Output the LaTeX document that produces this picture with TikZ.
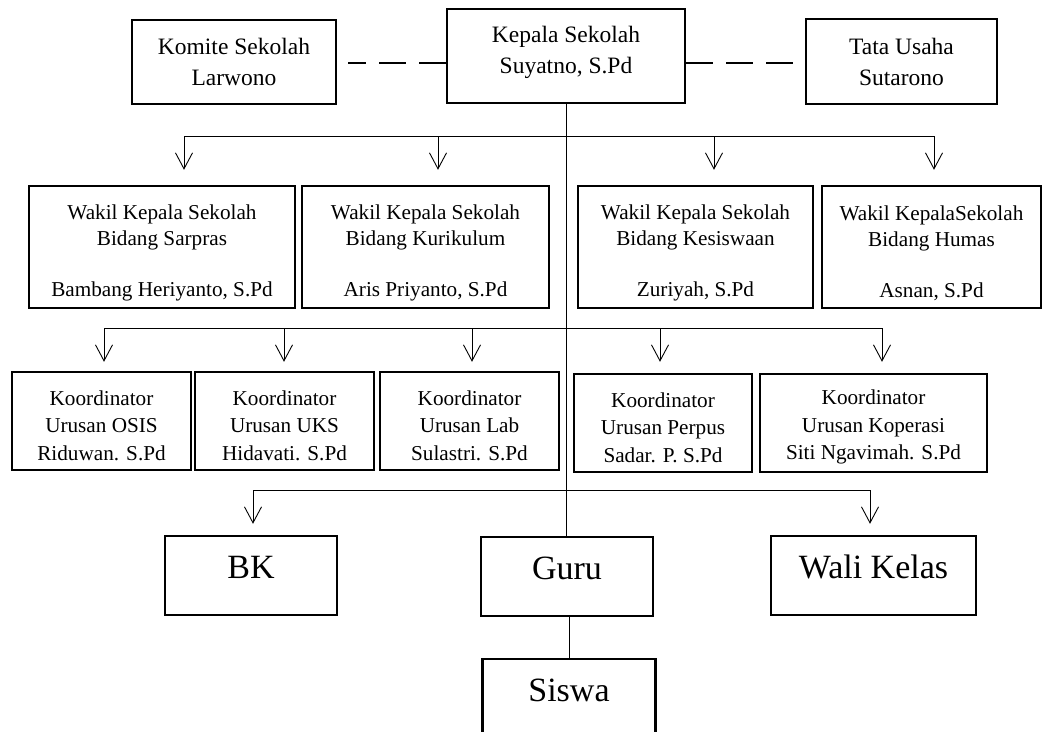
\documentclass[tikz,border=0pt]{standalone}
\usepackage{fontspec}
\setmainfont{Liberation Serif}
\usetikzlibrary{arrows.meta}
\newcommand{\wkstrut}{\rule{0pt}{26.5pt}}
\newcommand{\kostrut}{\rule{0pt}{23.5pt}}
\begin{document}
\begin{tikzpicture}[x=1pt,y=-1pt,
  box/.style={draw,line width=2.4pt,inner sep=0pt,align=center},
  topbox/.style={box,font=\fontsize{23.5}{31}\selectfont},
  wkbox/.style={box,minimum height=122pt,font=\fontsize{21.2}{26}\selectfont},
  kobox/.style={box,minimum height=98pt,font=\fontsize{21.2}{27.5}\selectfont},
  btbox/.style={box,minimum height=79pt,text height=26pt,text depth=21pt,font=\fontsize{34}{40}\selectfont},
  conn/.style={line width=0.9pt},
  arr/.style={conn,-{Straight Barb[length=16pt,width=17pt,line width=0.9pt]}},
  dashline/.style={line width=1.1pt,dash pattern=on 27pt off 13pt}]
\useasboundingbox (0,0) rectangle (1044,731);
\clip (0,0) rectangle (1044,731);

% top row
\node[topbox,minimum width=204pt,minimum height=84pt] (komite) at (234,62) {Komite Sekolah\\Larwono};
\node[topbox,minimum width=238pt,minimum height=94pt,text depth=12pt] (kepala) at (566,56) {Kepala Sekolah\\Suyatno, S.Pd};
\node[topbox,minimum width=191pt,minimum height=85pt] (tata) at (901.5,61.5) {Tata Usaha\\Sutarono};

% wakil row
\node[wkbox,minimum width=266pt] (sarpras) at (162,247) {\wkstrut Wakil Kepala Sekolah\\Bidang Sarpras\\[25pt]Bambang Heriyanto, S.Pd};
\node[wkbox,minimum width=247pt] (kurikulum) at (425.5,247) {\wkstrut Wakil Kepala Sekolah\\Bidang Kurikulum\\[25pt]Aris Priyanto, S.Pd};
\node[wkbox,minimum width=235pt] (kesiswaan) at (695.5,247) {\wkstrut Wakil Kepala Sekolah\\Bidang Kesiswaan\\[25pt]Zuriyah, S.Pd};
\node[wkbox,minimum width=219pt] (humas) at (931.5,247) {\wkstrut Wakil KepalaSekolah\\Bidang Humas\\[25pt]Asnan, S.Pd};

% koordinator row
\node[kobox,minimum width=179pt] (osis) at (101.5,421) {\kostrut Koordinator\\Urusan OSIS\\Riduwan. S.Pd};
\node[kobox,minimum width=179pt] (uks) at (284.5,421) {\kostrut Koordinator\\Urusan UKS\\Hidavati. S.Pd};
\node[kobox,minimum width=179pt] (lab) at (469.5,421) {\kostrut Koordinator\\Urusan Lab\\Sulastri. S.Pd};
\node[kobox,minimum width=178pt] (perpus) at (663,423) {\kostrut Koordinator\\Urusan Perpus\\Sadar. P. S.Pd};
\node[kobox,minimum width=227pt] (koperasi) at (873.5,423) {\kostrut Koordinator\\Urusan Koperasi\\Siti Ngavimah. S.Pd};

% bottom
\node[btbox,minimum width=172pt] (bk) at (251,575.5) {BK};
\node[btbox,minimum width=172pt] (guru) at (567,576.5) {Guru};
\node[btbox,minimum width=205pt] (wali) at (873.5,575.5) {Wali Kelas};
\node[btbox,minimum width=173pt] (siswa) at (569,698.5) {Siswa};

% dashed links
\coordinate (dl) at (348,63);
\coordinate (dr) at (793,63);
\draw[dashline] (kepala.west |- dl) -- (dl);
\draw[dashline] (kepala.east |- dr) -- (dr);

% trunk
\draw[conn] (kepala.south) -- (kepala.south |- guru.north);
\draw[conn] (siswa.north |- guru.south) -- (siswa.north);

% wakil bus
\coordinate (w1) at (184,136);
\coordinate (w2) at (438,136);
\coordinate (w3) at (714,136);
\coordinate (w4) at (934,136);
\draw[conn] (w1) -- (w4);
\draw[arr,shorten >=15pt] (w1) -- (w1 |- sarpras.north);
\draw[arr,shorten >=15pt] (w2) -- (w2 |- kurikulum.north);
\draw[arr,shorten >=15pt] (w3) -- (w3 |- kesiswaan.north);
\draw[arr,shorten >=15pt] (w4) -- (w4 |- humas.north);

% koordinator bus
\coordinate (k1) at (104,328);
\coordinate (k2) at (284,328);
\coordinate (k3) at (472,328);
\coordinate (k4) at (660,328);
\coordinate (k5) at (882,328);
\draw[conn] (k1) -- (k5);
\draw[arr,shorten >=9pt] (k1) -- (k1 |- osis.north);
\draw[arr,shorten >=9pt] (k2) -- (k2 |- uks.north);
\draw[arr,shorten >=9pt] (k3) -- (k3 |- lab.north);
\draw[arr,shorten >=11pt] (k4) -- (k4 |- perpus.north);
\draw[arr,shorten >=11pt] (k5) -- (k5 |- koperasi.north);

% bottom bus
\coordinate (g1) at (253,490);
\coordinate (g2) at (870,490);
\draw[conn] (g1) -- (g2);
\draw[arr,shorten >=11pt] (g1) -- (g1 |- bk.north);
\draw[arr,shorten >=11pt] (g2) -- (g2 |- wali.north);
\end{tikzpicture}
\end{document}
